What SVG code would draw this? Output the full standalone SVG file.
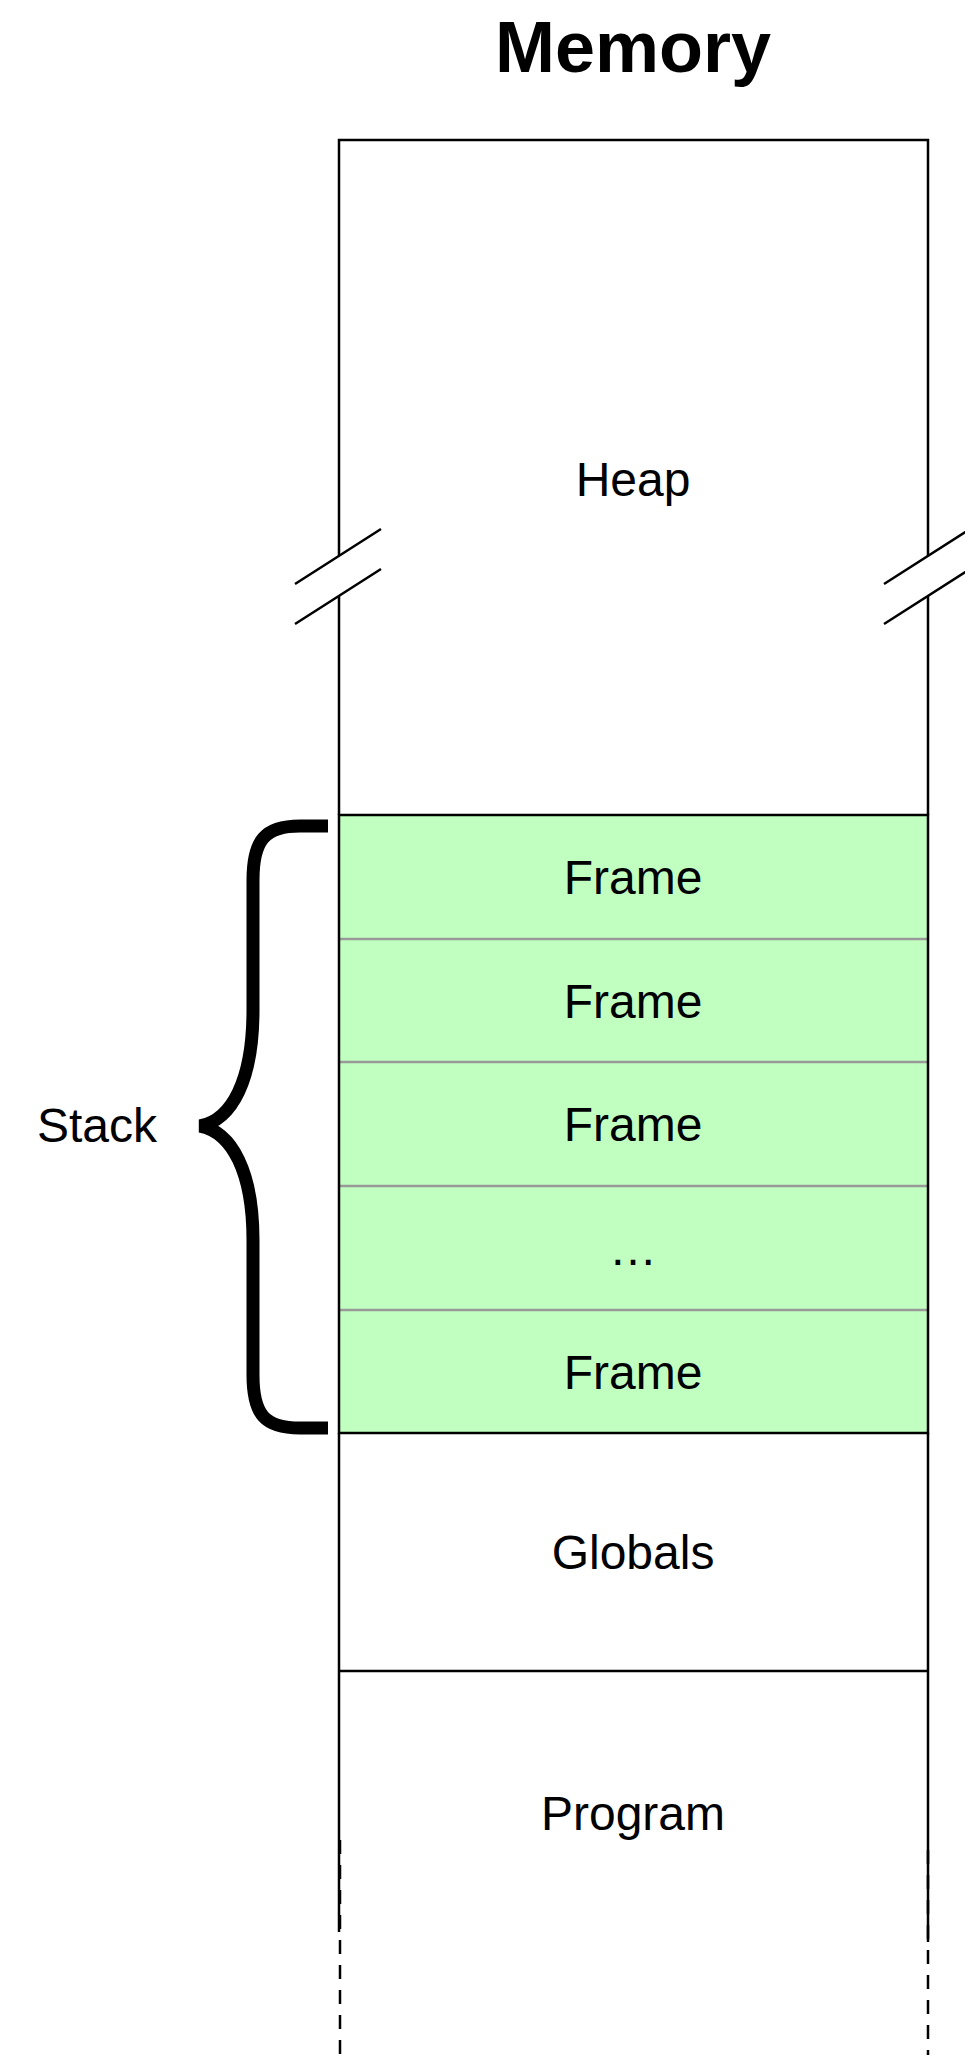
<svg xmlns="http://www.w3.org/2000/svg" width="965" height="2055" viewBox="0 0 965 2055">
<style>
.t{font-family:"Liberation Sans",Arial,sans-serif;font-size:48px;fill:#000;text-anchor:middle}
.title{font-family:"Liberation Sans",Arial,sans-serif;font-size:72px;font-weight:bold;fill:#000;text-anchor:middle}
.wall{stroke:#000;stroke-width:2.5;fill:none}
.sep{stroke:#999;stroke-width:2.5}
.dash{stroke:#000;stroke-width:2.5;stroke-dasharray:14 11;fill:none}
</style>
<rect width="965" height="2055" fill="#fff"/>
<text class="title" x="633" y="72">Memory</text>
<g id="heap">
<path class="wall" d="M339,556 V140 H928 V556"/>
<path class="wall" d="M339,596 V815 M928,596 V815"/>
<text class="t" x="633" y="496">Heap</text>
</g>
<g id="break">
<path class="wall" d="M295,584 L381,529 M295,624 L381,569 M884,584 L970,529 M884,624 L970,569"/>
</g>
<g id="stack">
<rect x="339" y="815" width="589" height="618" fill="#c0ffc0"/>
<line class="sep" x1="340" y1="939" x2="927" y2="939"/>
<line class="sep" x1="340" y1="1062" x2="927" y2="1062"/>
<line class="sep" x1="340" y1="1186" x2="927" y2="1186"/>
<line class="sep" x1="340" y1="1310" x2="927" y2="1310"/>
<rect class="wall" x="339" y="815" width="589" height="618"/>
<text class="t" x="633" y="894">Frame</text>
<text class="t" x="633" y="1018">Frame</text>
<text class="t" x="633" y="1141">Frame</text>
<text class="t" x="633" y="1265">…</text>
<text class="t" x="633" y="1389">Frame</text>
</g>
<g id="globals">
<path class="wall" d="M339,1433 V1671 M928,1433 V1671 M339,1671 H928"/>
<text class="t" x="633" y="1569">Globals</text>
</g>
<g id="program">
<path class="wall" d="M339,1671 V1932 M928,1671 V1942"/>
<path class="dash" d="M340,1840 V2055 M928,1850 V2055"/>
<text class="t" x="633" y="1830">Program</text>
</g>
<g id="stack-brace">
<path d="M328,826 H300 C265,826 253,840 253,880 V1010 C253,1080 232,1120 200,1126 C232,1132 253,1172 253,1240 V1375 C253,1415 265,1428 300,1428 H328" fill="none" stroke="#000" stroke-width="13" stroke-linejoin="miter"/>
<text class="t" x="97" y="1142">Stack</text>
</g>
</svg>
